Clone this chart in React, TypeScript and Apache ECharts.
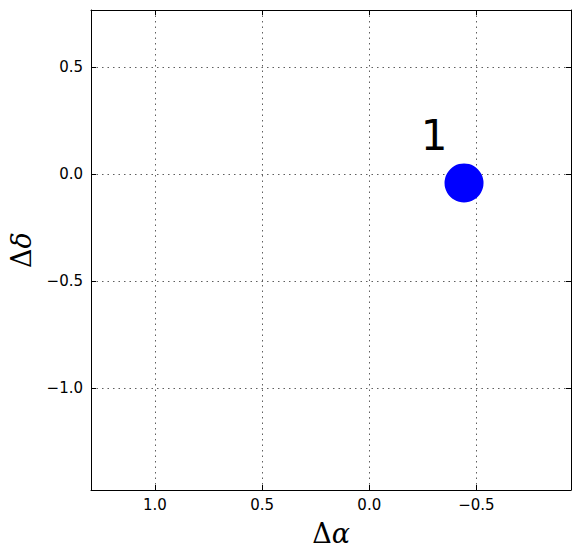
import React, { useEffect, useRef } from "react";
import * as echarts from "echarts";

const xRange = [-0.941, 1.298];
const yRange = [-1.475, 0.765];
const xTicks = [-0.5, 0.0, 0.5, 1.0];
const yTicks = [-1.0, -0.5, 0.0, 0.5];
const pointIds = ["1"];
const pointX = [-0.442];
const pointY = [-0.042];

const fmt = (v: number) => v.toFixed(1).replace("-", "\u2212");

export default function App() {
  const ref = useRef<HTMLDivElement>(null);
  useEffect(() => {
    document.body.style.margin = "0";
    const chart = echarts.init(ref.current!, null, { renderer: "svg" });
    const splitLineStyle = { color: "#000", width: 0.7, type: [1.5, 4] as any, opacity: 0.9 };
    const tickStyle = { color: "#000", width: 1 };
    const labelFont = { fontFamily: "DejaVu Sans", fontSize: 15, color: "#000" };
    const nameRich = {
      d: { fontFamily: "DejaVu Serif", fontSize: 27, color: "#000" },
      a: { fontFamily: "DejaVu Serif", fontStyle: "italic", fontSize: 27, color: "#000" },
    };
    chart.setOption({
      animation: false,
      backgroundColor: "#fff",
      grid: {
        left: 91,
        right: 9,
        top: 10,
        bottom: 68,
        show: false,
        containLabel: false,
        outerBoundsMode: "none",
      },
      xAxis: [
        {
          type: "value",
          inverse: true,
          min: xRange[0],
          max: xRange[1],
          position: "bottom",
          name: "{d|\u0394}{a|\u03b1}",
          nameLocation: "middle",
          nameGap: 30,
          nameTextStyle: { rich: nameRich },
          axisLine: { show: true, onZero: false, lineStyle: { color: "#000", width: 1 } },
          axisTick: { show: true, inside: true, length: 5, lineStyle: tickStyle, customValues: xTicks },
          axisLabel: { ...labelFont, margin: 7, formatter: fmt, customValues: xTicks },
          splitLine: { show: true, lineStyle: splitLineStyle },
        },
        {
          type: "value",
          inverse: true,
          min: xRange[0],
          max: xRange[1],
          position: "top",
          axisLine: { show: true, onZero: false, lineStyle: { color: "#000", width: 1 } },
          axisTick: { show: true, inside: true, length: 5, lineStyle: tickStyle, customValues: xTicks },
          axisLabel: { show: false },
          splitLine: { show: false },
        },
      ],
      yAxis: [
        {
          type: "value",
          min: yRange[0],
          max: yRange[1],
          position: "left",
          name: "{d|\u0394}{a|\u03b4}",
          nameLocation: "middle",
          nameGap: 56,
          nameRotate: 90,
          nameTextStyle: { rich: nameRich },
          axisLine: { show: true, onZero: false, lineStyle: { color: "#000", width: 1 } },
          axisTick: { show: true, inside: true, length: 5, lineStyle: tickStyle, customValues: yTicks },
          axisLabel: { ...labelFont, margin: 8, formatter: fmt, customValues: yTicks },
          splitLine: { show: true, lineStyle: splitLineStyle },
        },
        {
          type: "value",
          min: yRange[0],
          max: yRange[1],
          position: "right",
          axisLine: { show: true, onZero: false, lineStyle: { color: "#000", width: 1 } },
          axisTick: { show: true, inside: true, length: 5, lineStyle: tickStyle, customValues: yTicks },
          axisLabel: { show: false },
          splitLine: { show: false },
        },
      ],
      series: [
        {
          type: "scatter",
          xAxisIndex: 0,
          yAxisIndex: 0,
          symbol: "circle",
          symbolSize: 39,
          itemStyle: { color: "#0000ff", opacity: 1 },
          data: pointX.map((x, i) => ({ value: [x, pointY[i]], name: pointIds[i] })),
          label: {
            show: true,
            position: "inside",
            offset: [-30, -47],
            formatter: (p: any) => p.name,
            fontFamily: "DejaVu Sans",
            fontSize: 42,
            color: "#000",
          },
        },
      ],
    });
    return () => chart.dispose();
  }, []);
  return <div ref={ref} style={{ width: 580, height: 558 }} />;
}
